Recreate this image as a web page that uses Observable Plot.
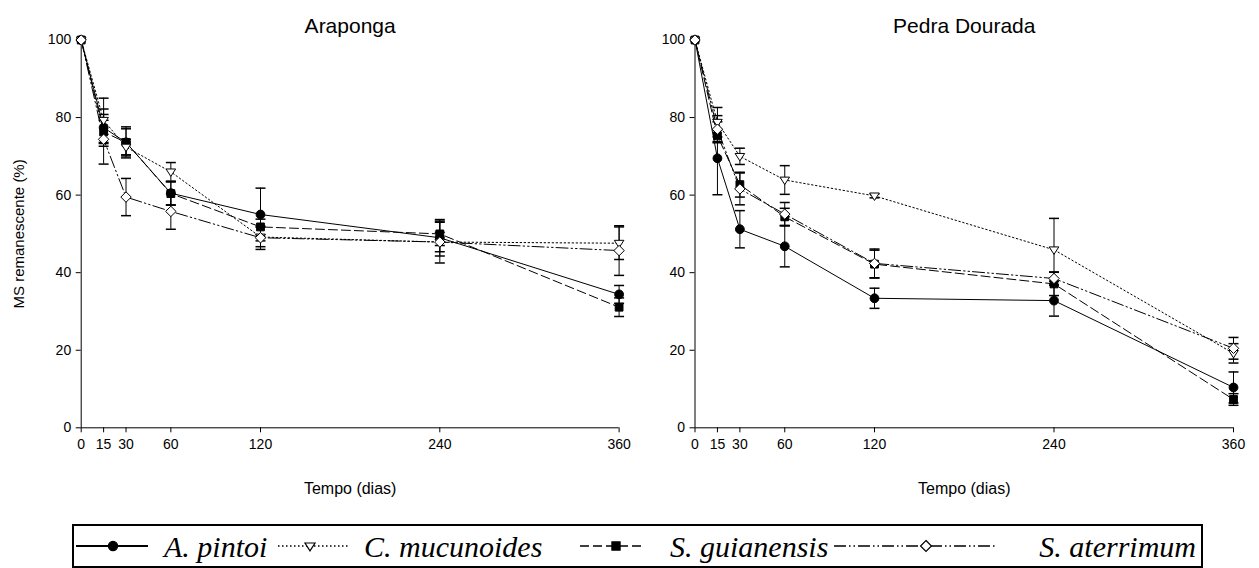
<!DOCTYPE html>
<html><head><meta charset="utf-8">
<script src="https://cdn.jsdelivr.net/npm/d3@7"></script>
<script src="https://cdn.jsdelivr.net/npm/@observablehq/plot@0.6"></script>
<style>
body{margin:0;background:#fff;}
#wrap{position:relative;width:1259px;height:568px;overflow:hidden;font-family:"Liberation Sans",Arial,sans-serif;background:#fff;}
#left{position:absolute;left:0;top:0;}
#right{position:absolute;left:640px;top:0;}
#legsvg{position:absolute;left:0;top:0;}
</style></head>
<body><div id="wrap"><div id="left"></div><div id="right"></div></div>
<script>
// ---- data ----
const days = [0, 15, 30, 60, 120, 240, 360];
const yTicks = [0, 20, 40, 60, 80, 100];
const species = ["A. pintoi", "C. mucunoides", "S. guianensis", "S. aterrimum"];
const sites = ["Araponga", "Pedra Dourada"];

// Araponga: mean and error
const arapongaPintoi      = [100, 77.4, 73.6, 60.5, 55.0, 49.0, 34.4];
const arapongaPintoiErr   = [0, 4.8, 3.5, 3.0, 6.8, 4.7, 2.3];
const arapongaMucunoides  = [100, 79.3, 72.4, 66.0, 49.2, 47.9, 47.6];
const arapongaMucunoidesErr = [0, 5.7, 2.0, 2.4, 2.5, 2.5, 4.2];
const arapongaGuianensis  = [100, 76.3, 73.6, 60.4, 51.8, 50.0, 31.1];
const arapongaGuianensisErr = [0, 3.0, 4.0, 3.0, 2.0, 3.0, 2.4];
const arapongaAterrimum   = [100, 74.4, 59.5, 55.8, 49.0, 47.9, 45.7];
const arapongaAterrimumErr = [0, 6.4, 4.8, 4.6, 3.0, 5.4, 6.4];

// Pedra Dourada: mean and error
const pedraPintoi      = [100, 69.5, 51.2, 46.8, 33.4, 32.8, 10.4];
const pedraPintoiErr   = [0, 9.4, 4.8, 5.3, 2.6, 4.0, 4.0];
const pedraMucunoides  = [100, 78.8, 70.0, 63.9, 59.8, 45.9, 19.2];
const pedraMucunoidesErr = [0, 3.8, 2.1, 3.7, 0.5, 8.1, 2.5];
const pedraGuianensis  = [100, 75.3, 62.7, 54.4, 42.2, 37.1, 7.3];
const pedraGuianensisErr = [0, 1.5, 3.2, 2.2, 3.6, 3.0, 1.5];
const pedraAterrimum   = [100, 77.0, 61.6, 55.1, 42.4, 38.5, 20.5];
const pedraAterrimumErr = [0, 3.5, 4.1, 3.0, 3.7, 1.7, 2.8];

const yLabel = "MS remanescente (%)";
const xLabel = "Tempo (dias)";

// ---- build rows ----
function rowsFor(means, errs) {
  const out = [];
  species.forEach((s, i) => days.forEach((t, j) => out.push({species: s, t, v: means[i][j], e: errs[i][j]})));
  return out;
}
const arapongaRows = rowsFor(
  [arapongaPintoi, arapongaMucunoides, arapongaGuianensis, arapongaAterrimum],
  [arapongaPintoiErr, arapongaMucunoidesErr, arapongaGuianensisErr, arapongaAterrimumErr]);
const pedraRows = rowsFor(
  [pedraPintoi, pedraMucunoides, pedraGuianensis, pedraAterrimum],
  [pedraPintoiErr, pedraMucunoidesErr, pedraGuianensisErr, pedraAterrimumErr]);

// ---- symbols ----
const rad = size => Math.sqrt(size / Math.PI);
const capSym = {draw(c, size){const r = rad(size); c.moveTo(-r, 0); c.lineTo(r, 0);}};
const circleSym = {draw(c, size){const r = rad(size); c.moveTo(r, 0); c.arc(0, 0, r, 0, 2*Math.PI);}};
const squareSym = {draw(c, size){const r = rad(size); c.rect(-r, -r, 2*r, 2*r);}};
const triSym = {draw(c, size){const r = rad(size); c.moveTo(-r, -r*0.6); c.lineTo(r, -r*0.6); c.lineTo(0, r*0.95); c.closePath();}};
const diaSym = {draw(c, size){const r = rad(size); c.moveTo(0, -r); c.lineTo(r, 0); c.lineTo(0, r); c.lineTo(-r, 0); c.closePath();}};

const styles = {
  "A. pintoi":     {dash: null,                 sym: circleSym, r: 4.4, fill: "black"},
  "C. mucunoides": {dash: "1.5,2.5",            sym: triSym,    r: 4.8, fill: "white"},
  "S. guianensis": {dash: "9,4",                sym: squareSym, r: 3.9, fill: "black"},
  "S. aterrimum":  {dash: "12,3,1.5,3,1.5,3",   sym: diaSym,    r: 5.2, fill: "white"}
};
const drawOrder = ["A. pintoi", "S. guianensis", "C. mucunoides", "S. aterrimum"];

function panel(rows, title, o) {
  const H = 520;
  const errRows = rows.filter(d => d.e > 0);
  const marks = [
    Plot.ruleX([0], {y1: 0, y2: 100, stroke: "black"}),
    Plot.ruleY([0], {x1: 0, x2: 360, stroke: "black"}),
    Plot.axisX({ticks: days, tickSize: 5, tickPadding: 6, label: null, fontSize: 14}),
    Plot.axisY({ticks: yTicks, tickSize: 5, tickPadding: 5, label: null, fontSize: 14}),
    Plot.text([title], {frameAnchor: "top", dy: -14, textAnchor: "middle", lineAnchor: "middle", fontSize: 21}),
    Plot.text([xLabel], {frameAnchor: "bottom", dy: 61, textAnchor: "middle", lineAnchor: "middle", fontSize: 16})
  ];
  if (o.yLabel) marks.push(Plot.text([yLabel], {frameAnchor: "left", dx: -62, rotate: -90, textAnchor: "middle", lineAnchor: "middle", fontSize: 15}));
  for (const s of species) {
    marks.push(Plot.line(rows.filter(d => d.species === s), {x: "t", y: "v", stroke: "black", strokeWidth: 1, strokeDasharray: styles[s].dash}));
  }
  marks.push(Plot.ruleX(errRows, {x: "t", y1: d => d.v - d.e, y2: d => d.v + d.e, stroke: "black", strokeWidth: 1}));
  marks.push(Plot.dot(errRows, {x: "t", y: d => d.v + d.e, symbol: capSym, r: 5, stroke: "black", fill: "none"}));
  marks.push(Plot.dot(errRows, {x: "t", y: d => d.v - d.e, symbol: capSym, r: 5, stroke: "black", fill: "none"}));
  for (const s of drawOrder) {
    const st = styles[s];
    marks.push(Plot.dot(rows.filter(d => d.species === s), {x: "t", y: "v", symbol: st.sym, r: st.r, stroke: "black", strokeWidth: 1, fill: st.fill}));
  }
  return Plot.plot({
    width: o.width, height: H,
    marginLeft: o.ml, marginRight: o.mr, marginTop: 39.5, marginBottom: H - 427.3,
    x: {domain: [0, 360]},
    y: {domain: [0, 100]},
    style: {fontFamily: "'Liberation Sans', Arial, sans-serif", fontSize: "14px", color: "#000", background: "white", overflow: "visible"},
    marks
  });
}

document.getElementById("left").appendChild(panel(arapongaRows, sites[0], {width: 640, ml: 80.7, mr: 21.4, yLabel: true}));
document.getElementById("right").appendChild(panel(pedraRows, sites[1], {width: 619, ml: 54.5, mr: 26, yLabel: false}));

// ---- legend (frame + swatches + labels) ----
const ns = "http://www.w3.org/2000/svg";
const legSvg = document.createElementNS(ns, "svg");
legSvg.setAttribute("id", "legsvg"); legSvg.setAttribute("width", 1259); legSvg.setAttribute("height", 568);
legSvg.style.pointerEvents = "none";
const box = document.createElementNS(ns, "rect");
box.setAttribute("x", 73); box.setAttribute("y", 525); box.setAttribute("width", 1129); box.setAttribute("height", 42);
box.setAttribute("fill", "none"); box.setAttribute("stroke", "black"); box.setAttribute("stroke-width", 2);
legSvg.appendChild(box);
const legItems = [
  {s: "A. pintoi",     x1: 76,  x2: 148, mx: 113, tx: 164,  anchor: "start"},
  {s: "C. mucunoides", x1: 278, x2: 350, mx: 310, tx: 364,  anchor: "start"},
  {s: "S. guianensis", x1: 580, x2: 644, mx: 616, tx: 670,  anchor: "start"},
  {s: "S. aterrimum",  x1: 834, x2: 996, mx: 926, tx: 1196, anchor: "end"}
];
const cy = 546;
for (const it of legItems) {
  const st = styles[it.s];
  const ln = document.createElementNS(ns, "line");
  ln.setAttribute("x1", it.x1); ln.setAttribute("x2", it.x2);
  ln.setAttribute("y1", cy); ln.setAttribute("y2", cy);
  ln.setAttribute("stroke", "black"); ln.setAttribute("stroke-width", it.s === "A. pintoi" ? 2 : 1.5);
  if (st.dash) ln.setAttribute("stroke-dasharray", st.dash);
  legSvg.appendChild(ln);
  const p = d3.path();
  st.sym.draw(p, Math.PI * st.r * st.r * 1.1);
  const m = document.createElementNS(ns, "path");
  m.setAttribute("d", p.toString());
  m.setAttribute("transform", `translate(${it.mx},${cy})`);
  m.setAttribute("fill", st.fill); m.setAttribute("stroke", "black"); m.setAttribute("stroke-width", 1.2);
  legSvg.appendChild(m);
  const t = document.createElementNS(ns, "text");
  t.setAttribute("x", it.tx); t.setAttribute("y", 557);
  t.setAttribute("text-anchor", it.anchor);
  t.setAttribute("font-family", "'Liberation Serif','Times New Roman',serif");
  t.setAttribute("font-style", "italic"); t.setAttribute("font-size", 30);
  t.textContent = it.s;
  legSvg.appendChild(t);
}
document.getElementById("wrap").appendChild(legSvg);
</script></body></html>
